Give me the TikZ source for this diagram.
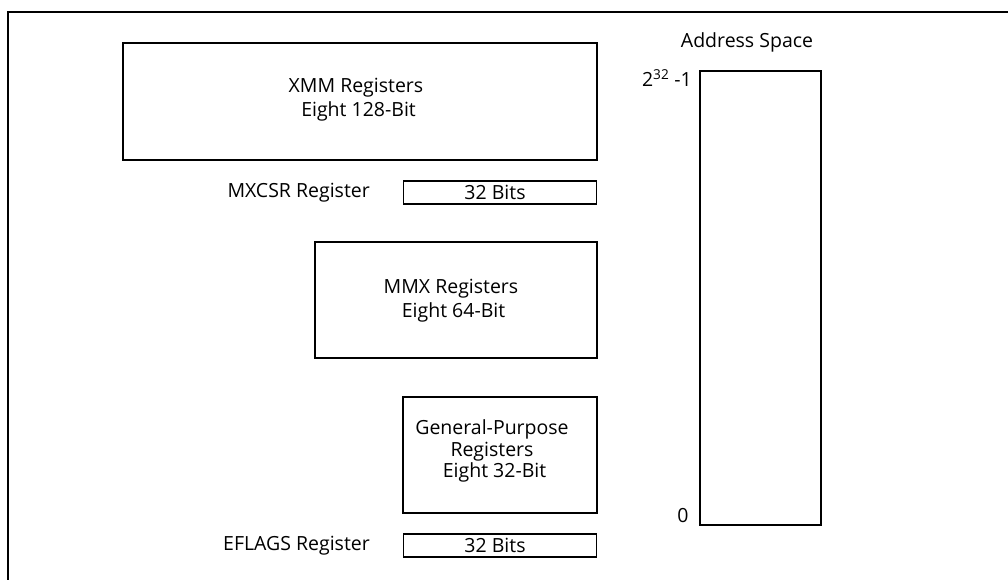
\documentclass[tikz,border=0pt]{standalone}
\usepackage{fontspec}
\setmainfont{Open Sans}
\begin{document}
\begin{tikzpicture}[x=1pt,y=-1pt,
  reg/.style={draw,line width=1.5pt,inner sep=0pt},
  lbl/.style={inner sep=0pt,font=\fontsize{19.5}{24}\selectfont}]
\useasboundingbox (0,0) rectangle (1008,580);
\coordinate (ftl) at (8,12);
\coordinate (ftr) at (1008,12);
\coordinate (fbl) at (8,580);
\draw[line width=2.2pt] (fbl) -- (ftl) -- (ftr);
% XMM
\node[reg,minimum width=474pt,minimum height=117pt] (xmm) at (360,101.5) {};
\node[lbl,align=center] (xmmt) at (356,100) {XMM Registers\\\ Eight 128-Bit};
% MXCSR
\node[reg,minimum width=193pt,minimum height=23pt] (mxcsr) at (500,192.5) {};
\node[lbl] (mxcsrb) at (495,192.5) {32 Bits};
\node[lbl,anchor=east] (mxcsrl) at (370,192.5) {MXCSR Register};
% MMX
\node[reg,minimum width=282pt,minimum height=116pt] (mmx) at (456,300) {};
\node[lbl,align=center] (mmxt) at (451,301) {MMX Registers\\\ Eight 64-Bit};
% GP
\node[reg,minimum width=194pt,minimum height=116pt] (gp) at (500,455) {};
\node[lbl,align=center,font=\fontsize{19.5}{21.5}\selectfont] (gpt) at (492,451) {General-Purpose\\Registers\\\ Eight 32-Bit};
% EFLAGS
\node[reg,minimum width=193pt,minimum height=23pt] (eflags) at (500,545.5) {};
\node[lbl] (eflagsb) at (495,545.5) {32 Bits};
\node[lbl,anchor=east] (eflagsl) at (370,545.5) {EFLAGS Register};
% Address space
\node[draw,line width=1.4pt,inner sep=0pt,minimum width=121pt,minimum height=454pt] (as) at (760.5,298) {};
\node[lbl] (ast) at (747,42) {Address Space};
\node[lbl,anchor=east] (top) at (692,78) {2\textsuperscript{32} -1};
\node[lbl] (zero) at (683,516) {0};
\end{tikzpicture}
\end{document}
